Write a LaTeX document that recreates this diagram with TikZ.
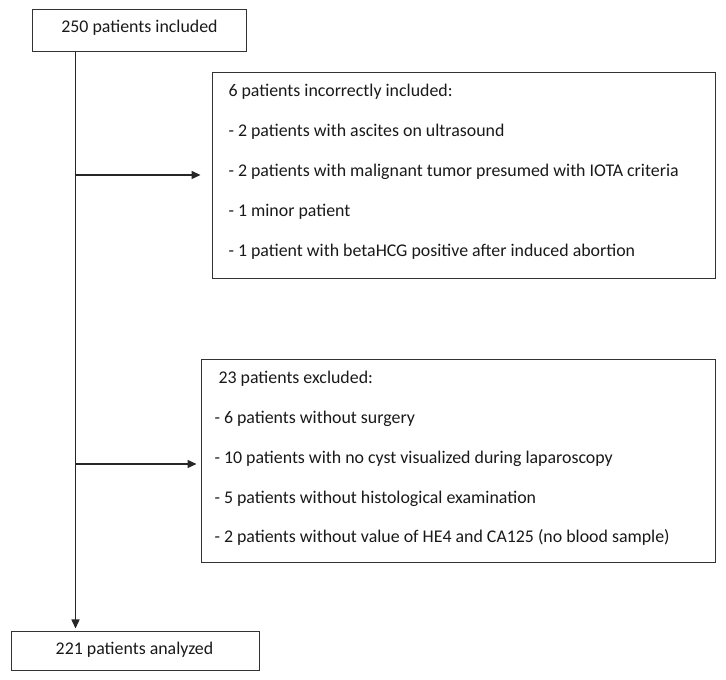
\documentclass[tikz,border=0pt]{standalone}
\usepackage{fontspec}
\setmainfont{Carlito}
\usetikzlibrary{positioning,fit,arrows.meta}
\tikzset{every picture/.style={line width=0.75pt}}

\begin{document}
\begin{tikzpicture}[x=0.75pt,y=0.75pt,yscale=-1,xscale=1,
    flowbox/.style={draw=black!80, rectangle, inner sep=0pt},
    boxtext/.style={inner sep=0pt, text=black!90, font=\fontsize{13.4}{16}\selectfont},
    flowarrow/.style={draw=black!85, line width=1.1pt, -{Triangle[length=6.75pt,width=6pt]}}]
\useasboundingbox (0,0) rectangle (726,680);

%Shape: Boxes
\node[flowbox, fit={(32,10) (246,52)}] (included) {};
\node[flowbox, fit={(212,73) (715,279)}] (incorrect) {};
\node[flowbox, fit={(201,360) (715,563)}] (excluded) {};
\node[flowbox, fit={(11,632) (259,671)}] (analyzed) {};

% Text Node
\node[boxtext, anchor=base] (includedtxt) at (139.5,33) {250 patients included};
% Text Node
\node[boxtext, anchor=base] (analyzedtxt) at (134.5,655) {221 patients analyzed};

% Text Node
\node[boxtext, anchor=base west] (inc0) at (228,97) {6 patients incorrectly included:};
% Text Node
\node[boxtext, anchor=base west] (inc1) at (228,137) {- 2 patients with ascites on ultrasound};
% Text Node
\node[boxtext, anchor=base west] (inc2) at (228,177) {- 2 patients with malignant tumor presumed with IOTA criteria};
% Text Node
\node[boxtext, anchor=base west] (inc3) at (228,217) {- 1 minor patient};
% Text Node
\node[boxtext, anchor=base west] (inc4) at (228,257) {- 1 patient with betaHCG positive after induced abortion};

% Text Node
\node[boxtext, anchor=base west] (exc0) at (218,384) {23 patients excluded:};
% Text Node
\node[boxtext, anchor=base west] (exc1) at (214,424) {- 6 patients without surgery};
% Text Node
\node[boxtext, anchor=base west] (exc2) at (214,464) {- 10 patients with no cyst visualized during laparoscopy};
% Text Node
\node[boxtext, anchor=base west] (exc3) at (214,504) {- 5 patients without histological examination};
% Text Node
\node[boxtext, anchor=base west] (exc4) at (214,543) {- 2 patients without value of HE4 and CA125 (no blood sample)};

%Straight Lines: trunk and side arrows
\coordinate (trunktop) at ([xshift=33pt]included.south west);
\coordinate (split1) at (76,175);
\coordinate (split2) at (76,464);
\draw[flowarrow, shorten >=2.25pt] (trunktop) -- (trunktop |- analyzed.north);
\draw[flowarrow, shorten >=8.25pt] (split1) -- (split1 -| incorrect.west);
\draw[flowarrow, shorten >=3pt] (split2) -- (split2 -| excluded.west);

\end{tikzpicture}
\end{document}
